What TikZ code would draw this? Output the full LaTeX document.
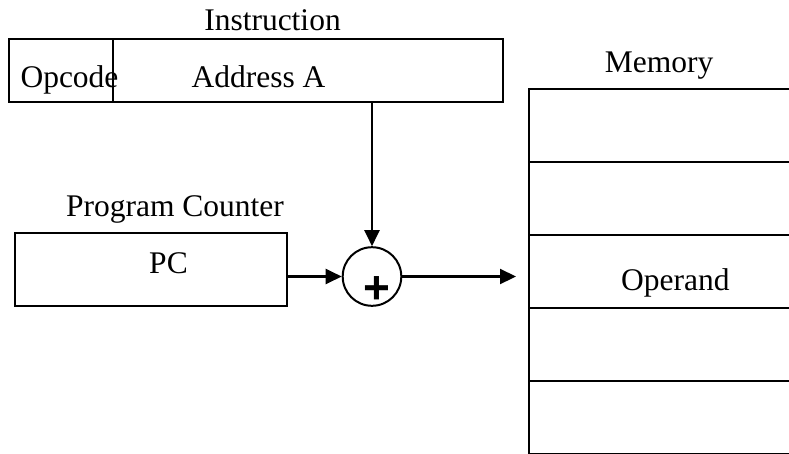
\documentclass[tikz,border=0pt]{standalone}
\usepackage{fontspec}
\setmainfont{Liberation Serif}
\newfontfamily\plusfont{Liberation Sans}
\usetikzlibrary{arrows.meta}
\begin{document}
\begin{tikzpicture}[x=1pt,y=-1pt,
  txt/.style={font=\fontsize{31.5}{36}\selectfont, inner sep=0pt, anchor=base},
  box/.style={draw, line width=2.2pt, inner sep=0pt, outer sep=0pt},
  field/.style={box, minimum height=63pt},
  cell/.style={inner sep=0pt, outer sep=0pt, minimum width=260pt, minimum height=73pt, anchor=north west},
  memline/.style={line width=2.6pt},
  arr/.style={-{Triangle[length=16pt,width=15pt]}, line width=2.2pt}]
\useasboundingbox (0,0) rectangle (789,453);

% Instruction register
\node[field, minimum width=104pt] (opc) at (61,70.5) {};
\node[field, minimum width=390pt] (addr) at (308,70.5) {};
\node[txt] (tinstr) at (272.5,30) {Instruction};
\node[txt] (topc) at (69.5,87) {Opcode};
\node[txt] (taddr) at (258.5,87) {Address A};

% Program counter
\node[box, minimum width=272pt, minimum height=73pt] (pc) at (151,269.5) {};
\node[txt] (tpcl) at (175,216.7) {Program Counter};
\node[txt] (tpc) at (168.5,273) {PC};

% Adder
\node[draw, circle, line width=2pt, minimum size=58.6pt, inner sep=0pt] (sum) at (372,276.5) {};
\node[font=\fontsize{46}{50}\selectfont\plusfont\bfseries, inner sep=0pt, anchor=base] (plus) at (377,303) {+};

% Memory
\node[cell] (c1) at (529,89) {};
\node[cell] (c2) at (529,162) {};
\node[cell] (c3) at (529,235) {};
\node[cell] (c4) at (529,308) {};
\node[cell] (c5) at (529,381) {};
\node[txt] (tmem) at (659,72.7) {Memory};
\node[txt] (topd) at (675.4,290.7) {Operand};
\draw[memline] (c1.north east) -- (c1.north west) -- (c5.south west);
\foreach \c in {c1,c2,c3,c4,c5}
  \draw[memline] (\c.south west) -- (\c.south east);

% Connectors
\coordinate (memin) at (516,276.5);
\draw[arr] (addr.south -| sum.north) -- (sum.north);
\draw[arr] (pc.east |- sum.west) -- (sum.west);
\draw[arr] (sum.east) -- (memin);
\end{tikzpicture}
\end{document}
